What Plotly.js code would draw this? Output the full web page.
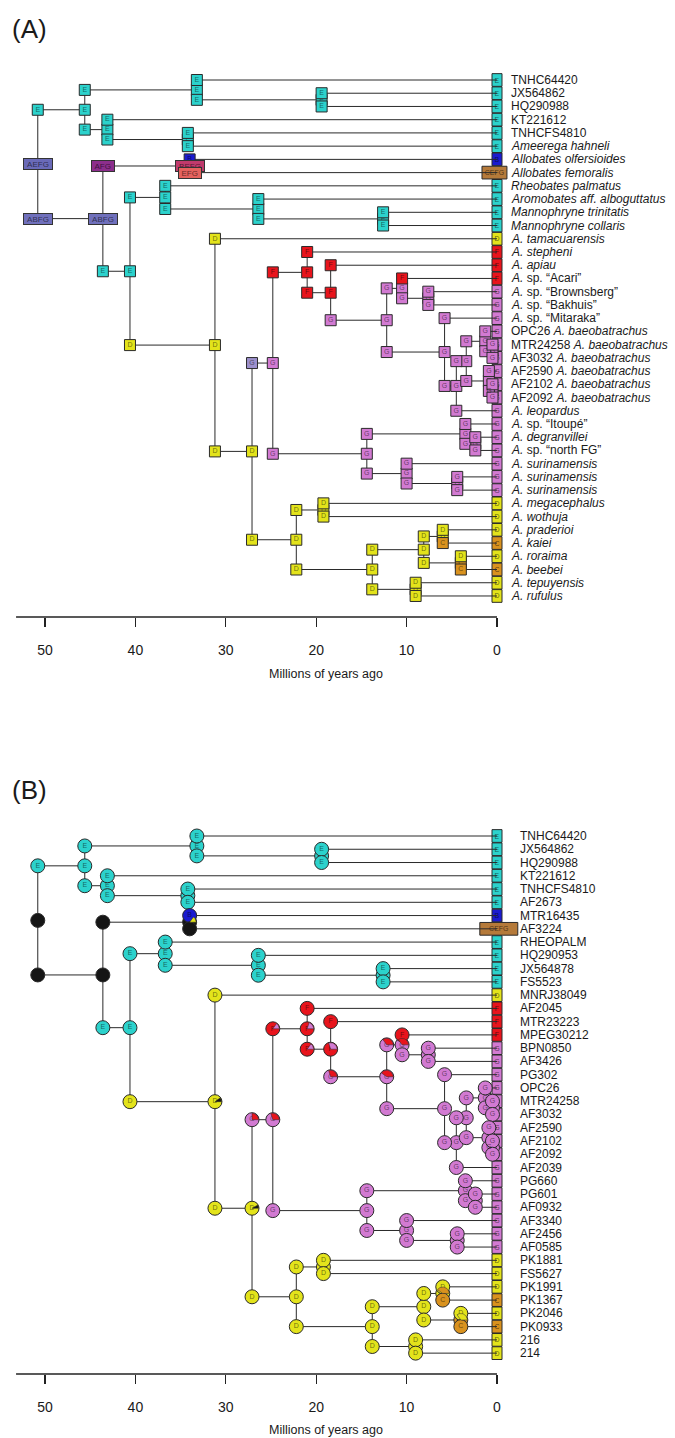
<!DOCTYPE html>
<html><head><meta charset="utf-8">
<script src="https://cdn.plot.ly/plotly-3.0.1.min.js"></script>
<style>body{margin:0;background:#fff}#plot{width:675px;height:1438px}</style>
</head><body><div id="plot"></div>
<script>
// ---------------- DATA ----------------
const tipLabelsA = [
 'TNHC64420','JX564862','HQ290988','KT221612','TNHCFS4810',
 '<i>Ameerega hahneli</i>','<i>Allobates olfersioides</i>','<i>Allobates femoralis</i>',
 '<i>Rheobates palmatus</i>','<i>Aromobates aff. alboguttatus</i>',
 '<i>Mannophryne trinitatis</i>','<i>Mannophryne collaris</i>',
 '<i>A. tamacuarensis</i>','<i>A. stepheni</i>','<i>A. apiau</i>',
 '<i>A.</i> sp. “Acari”','<i>A.</i> sp. “Brownsberg”','<i>A.</i> sp. “Bakhuis”','<i>A.</i> sp. “Mitaraka”',
 'OPC26 <i>A. baeobatrachus</i>','MTR24258 <i>A. baeobatrachus</i>','AF3032 <i>A. baeobatrachus</i>',
 'AF2590 <i>A. baeobatrachus</i>','AF2102 <i>A. baeobatrachus</i>','AF2092 <i>A. baeobatrachus</i>',
 '<i>A. leopardus</i>','<i>A.</i> sp. “Itoupé”','<i>A. degranvillei</i>','<i>A.</i> sp. “north FG”',
 '<i>A. surinamensis</i>','<i>A. surinamensis</i>','<i>A. surinamensis</i>',
 '<i>A. megacephalus</i>','<i>A. wothuja</i>','<i>A. praderioi</i>','<i>A. kaiei</i>',
 '<i>A. roraima</i>','<i>A. beebei</i>','<i>A. tepuyensis</i>','<i>A. rufulus</i>'];
const tipLabelsB = ['TNHC64420','JX564862','HQ290988','KT221612','TNHCFS4810','AF2673','MTR16435','AF3224',
 'RHEOPALM','HQ290953','JX564878','FS5523','MNRJ38049','AF2045','MTR23223','MPEG30212','BPN0850','AF3426',
 'PG302','OPC26','MTR24258','AF3032','AF2590','AF2102','AF2092','AF2039','PG660','PG601','AF0932','AF3340',
 'AF2456','AF0585','PK1881','FS5627','PK1991','PK1367','PK2046','PK0933','216','214'];
const tipStates = ['E','E','E','E','E','E','B','CEFG','E','E','E','E','D','F','F','F',
 'G','G','G','G','G','G','G','G','G','G','G','G','G','G','G','G','D','D','D','C','D','C','D','D'];

// internal nodes (n0..n38): age (Myr) and two children (t = tip number, n = node index)
const nodeAges = [50.8,45.6,33.2,19.4,43.1,34.2,43.6,34.0,40.6,36.7,26.4,12.6,31.2,27.1,24.8,21.0,18.4,12.2,
 10.5,7.6,5.8,4.5,3.4,1.3,0.5,0.9,0.5,14.4,3.5,2.4,10.0,4.4,22.2,19.2,13.8,8.1,6.0,4.0,9.0];
const nodeKids = [['n1','n6'],['n2','n4'],['t1','n3'],['t2','t3'],['t4','n5'],['t5','t6'],['n7','n8'],['t7','t8'],
 ['n9','n12'],['t9','n10'],['t10','n11'],['t11','t12'],['t13','n13'],['n14','n32'],['n15','n27'],['t14','n16'],
 ['t15','n17'],['n18','n20'],['t16','n19'],['t17','t18'],['t19','n21'],['n22','t26'],['n23','n25'],['t20','n24'],
 ['t21','t22'],['t23','n26'],['t24','t25'],['n28','n30'],['t27','n29'],['t28','t29'],['t30','n31'],['t31','t32'],
 ['n33','n34'],['t33','t34'],['n35','n38'],['n36','n37'],['t35','t36'],['t37','t38'],['t39','t40']];

// panel A states: at node, at top-branch corner, at bottom-branch corner
const nodeStateA = ['AEFG','E','E','E','E','E','ABFG','BEFG','E','E','E','E','D','D','G','F','F','G','G','G','G','G',
 'G','G','G','G','G','G','G','G','G','G','D','D','D','D','D','C','D'];
const topStateA = ['E','E','E','E','E','E','AFG','B','E','E','E','E','D','Gl','F','F','F','G','F','G','G','G',
 'G','G','G','G','G','G','G','G','G','G','D','D','D','D','D','D','D'];
const botStateA = ['ABFG','E','E','E','E','E','E','EFG','D','E','E','E','D','D','G','F','G','G','G','G','G','G',
 'G','G','G','G','G','G','G','G','G','G','D','D','D','D','C','C','D'];
// panel B most probable states (X = multi-area, black)
const nodeStateB = ['X','E','E','E','E','E','X','X','E','E','E','E','D','D','G','F','F','G','G','G','G','G',
 'G','G','G','G','G','G','G','G','G','G','D','D','D','D','D','C','D'];
const topStateB = ['E','E','E','E','E','E','X','B','E','E','E','E','D','G','F','F','F','G','F','G','G','G',
 'G','G','G','G','G','G','G','G','G','G','D','D','D','D','D','D','D'];
const botStateB = ['X','E','E','E','E','E','E','X','D','E','E','E','D','D','G','F','G','G','G','G','G','G',
 'G','G','G','G','G','G','G','G','G','G','D','D','D','D','C','C','D'];
// panel B secondary pie slices
const mixNodeB  = ['n12','n13','n13','n14','n14','n15','n15','n16','n16','n17','n17','n18','n36','n37','n7'];
const mixSpotB  = ['node','top','node','top','node','node','bot','node','bot','top','node','node','node','node','node'];
const mixStateB = ['X','F','X','G','F','G','G','G','F','F','F','F','C','D','D'];
const mixFracB  = [0.1,0.25,0.08,0.15,0.3,0.2,0.15,0.3,0.3,0.35,0.4,0.35,0.4,0.35,0.15];

const tickVals = [50,40,30,20,10,0];
const tickText = ['50','40','30','20','10','0'];

// ---------------- STYLE ----------------
const FONT = 'Liberation Sans, Arial, Helvetica, sans-serif';
const stateColor = {E:'#2CD2CC',D:'#E3E31B',F:'#E8141C',G:'#D27AD2',B:'#1B1BD0',C:'#D9921E',Gl:'#9C90CC',X:'#151515',
 CEFG:'#B57A3A',AEFG:'#6A6AB8',ABFG:'#7070BC',AFG:'#8C2E8C',BEFG:'#C03A6C',EFG:'#E5625E'};
const stateLabel = s => s === 'Gl' ? 'G' : (s === 'X' ? '' : s);
const W = 675, H = 1438, PX_PER_MYR = 9.04, ZERO_PX = 497;
const TIP_BOX_PX = 10;
const xr = [ZERO_PX / PX_PER_MYR, -(W - ZERO_PX) / PX_PER_MYR];
const panels = [
 {tip1:80, step:13.23, top:0, axisPx:617, xa:'x', ya:'y', lab:12, wide:[-1.1,2.76], titleY:674, tagY:29, tag:'(A)'},
 {tip1:836, step:13.26, top:700, axisPx:1374, xa:'x2', ya:'y2', lab:21, wide:[-2.3,4.2], titleY:1430, tagY:790, tag:'(B)'}
];
panels.forEach(P => {
  P.domain = [1 - P.axisPx / H, 1 - P.top / H];
  P.range = [1 + (P.axisPx - P.tip1) / P.step, 1 - (P.tip1 - P.top) / P.step];
});

function yOf(id){ if(id[0]==='t') return +id.slice(1); const k = nodeKids[+id.slice(1)]; return (yOf(k[0]) + yOf(k[1])) / 2; }
function ageOf(id){ return id[0]==='t' ? 0 : nodeAges[+id.slice(1)]; }

const traces = [], annotations = [], shapes = [];

function boxTrace(P, pts, circle){
  const single = pts.filter(p => p.s.length === 1 || p.s === 'Gl');
  traces.push({type:'scatter', mode:'markers+text', xaxis:P.xa, yaxis:P.ya, hoverinfo:'skip', showlegend:false, cliponaxis:false,
    x:single.map(p=>p.x), y:single.map(p=>p.y), text:single.map(p=>stateLabel(p.s)), textposition:'middle center',
    textfont:{size:7, color:'rgba(0,0,0,0.55)', family:FONT},
    marker:{symbol: circle ? 'circle' : 'square', size: circle ? 14 : 11, color:single.map(p=>stateColor[p.s]),
      line:{color:'#2a2a2a', width:1}}});
  pts.filter(p => !(p.s.length === 1 || p.s === 'Gl')).forEach(p => {
    annotations.push({xref:P.xa, yref:P.ya, x:p.x, y:p.y, text:p.s, showarrow:false,
      font:{size:8, color:'rgba(0,0,0,0.6)', family:FONT}, bgcolor:stateColor[p.s], bordercolor:'#333', borderwidth:1,
      borderpad:0, width:p.s.length*6.5+2, height:10});
  });
}

function addPanel(P, tipLabels, nodeS, topS, botS, isB){
  const lx=[], ly=[];
  nodeKids.forEach((k,i) => {
    const a = nodeAges[i];
    lx.push(a, a, null); ly.push(yOf(k[0]), yOf(k[1]), null);
    k.forEach(c => { lx.push(a, ageOf(c), null); ly.push(yOf(c), yOf(c), null); });
  });
  traces.push({type:'scatter', mode:'lines', x:lx, y:ly, xaxis:P.xa, yaxis:P.ya, hoverinfo:'skip', showlegend:false,
    line:{color:'#2a2a2a', width:1}});
  boxTrace(P, nodeKids.map((k,i)=>({x:nodeAges[i], y:yOf('n'+i), s:nodeS[i]})), isB);
  boxTrace(P, nodeKids.flatMap((k,i)=>[{x:nodeAges[i], y:yOf(k[0]), s:topS[i]}, {x:nodeAges[i], y:yOf(k[1]), s:botS[i]}]), isB);
  if (isB) {
    const kx = W / (xr[0] - xr[1]);
    const ky = (P.axisPx - P.top) / (P.range[0] - P.range[1]);
    const groups = {};
    mixNodeB.forEach((nid, j) => {
      const i = +nid.slice(1), k = nodeKids[i];
      const cx = nodeAges[i];
      const cy = mixSpotB[j]==='node' ? yOf(nid) : yOf(k[mixSpotB[j]==='top'?0:1]);
      const r = 6.5, f = mixFracB[j], g = (groups[mixStateB[j]] = groups[mixStateB[j]] || {x:[], y:[]});
      g.x.push(cx); g.y.push(cy);
      for (let s = 0; s <= 24; s++) {
        const th = 2*Math.PI*f*s/24;
        g.x.push(cx - r*Math.cos(th)/kx); g.y.push(cy - r*Math.sin(th)/ky);
      }
      g.x.push(cx, null); g.y.push(cy, null);
    });
    Object.keys(groups).forEach(s => traces.push({type:'scatter', mode:'lines', fill:'toself', x:groups[s].x, y:groups[s].y,
      xaxis:P.xa, yaxis:P.ya, hoverinfo:'skip', showlegend:false, fillcolor:stateColor[s], line:{width:0.5, color:'#2a2a2a'}}));
  }
  // tip state boxes: contiguous column drawn as horizontal bars centred on age 0
  const half = TIP_BOX_PX / 2 / PX_PER_MYR;
  traces.push({type:'bar', orientation:'h', xaxis:P.xa, yaxis:P.ya, hoverinfo:'skip', showlegend:false,
    y:tipStates.map((s,i)=>i+1),
    base:tipStates.map(s => s.length > 1 ? P.wide[0] : -half),
    x:tipStates.map(s => s.length > 1 ? P.wide[1] : 2*half),
    width:0.96, text:tipStates, textposition:'inside', insidetextanchor:'middle', textangle:0,
    textfont:{size:7, color:'rgba(0,0,0,0.6)', family:FONT}, constraintext:'none',
    marker:{color:tipStates.map(s=>stateColor[s]), line:{color:'#2a2a2a', width:1}}});
  tipLabels.forEach((t,i) => annotations.push({xref:P.xa, yref:P.ya, x:0, y:i+1, text:t, showarrow:false,
    xanchor:'left', yanchor:'middle', xshift:P.lab, font:{size:12, color:'#1a1a1a', family:FONT}}));
  shapes.push({type:'line', xref:P.xa, yref:P.ya + ' domain', x0:53.2, x1:0, y0:0, y1:0, line:{color:'#222', width:1.3}});
  annotations.push({xref:'paper', yref:'paper', x:326/W, y:1-P.titleY/H, text:'Millions of years ago', showarrow:false,
    xanchor:'center', yanchor:'middle', font:{size:12.5, color:'#1a1a1a', family:FONT}});
  annotations.push({xref:'paper', yref:'paper', x:10/W, y:1-P.tagY/H, text:P.tag, showarrow:false,
    xanchor:'left', yanchor:'middle', font:{size:26, color:'#1a1a1a', family:FONT}});
}

addPanel(panels[0], tipLabelsA, nodeStateA, topStateA, botStateA, false);
addPanel(panels[1], tipLabelsB, nodeStateB, topStateB, botStateB, true);

function xAxis(P){ return {domain:[0,1], anchor:P.ya, range:xr, showgrid:false, zeroline:false, showline:false,
  ticks:'outside', ticklen:9, tickwidth:1.2, tickcolor:'#222', tickvals:tickVals, ticktext:tickText,
  ticklabelstandoff:11, tickfont:{size:14, color:'#1a1a1a', family:FONT}}; }
function yAxis(P){ return {domain:P.domain, anchor:P.xa, range:P.range, visible:false, showgrid:false, zeroline:false}; }

const layout = {width:W, height:H, margin:{l:0,r:0,t:0,b:0}, paper_bgcolor:'#fff', plot_bgcolor:'rgba(0,0,0,0)',
  showlegend:false, barmode:'overlay', xaxis:xAxis(panels[0]), yaxis:yAxis(panels[0]), xaxis2:xAxis(panels[1]),
  yaxis2:yAxis(panels[1]), annotations:annotations, shapes:shapes, font:{family:FONT}};
Plotly.newPlot('plot', traces, layout, {staticPlot:true, displayModeBar:false});
</script></body></html>
